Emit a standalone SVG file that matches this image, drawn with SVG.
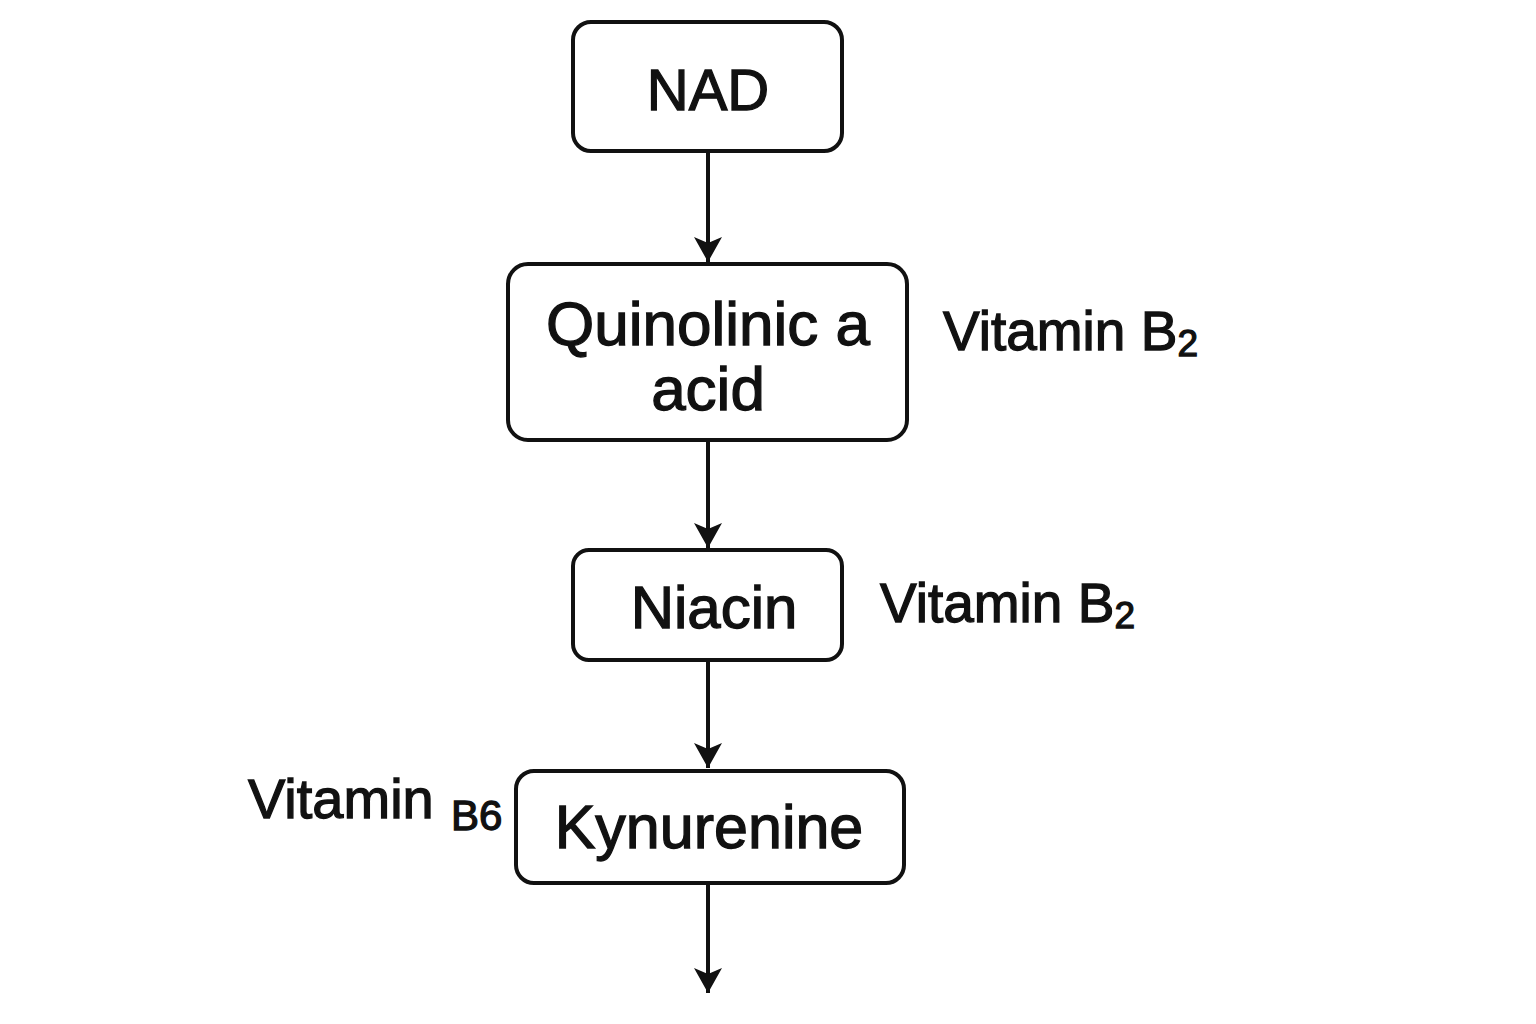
<svg xmlns="http://www.w3.org/2000/svg" width="1536" height="1024" viewBox="0 0 1536 1024">
<style>
.box{fill:#fff;stroke:#111;stroke-width:4}
.t{font-family:"Liberation Sans",Arial,sans-serif;fill:#111;stroke:#111;stroke-width:1.3}
.c{text-anchor:middle}
.edge{stroke:#111;stroke-width:4;fill:none}
</style>
<defs>
<marker id="ah" markerUnits="userSpaceOnUse" markerWidth="30" markerHeight="30" viewBox="0 0 30 30" refX="27" refY="15" orient="auto">
<path d="M2,1 L8,15 L2,29 L27,15 Z" fill="#111"/>
</marker>
</defs>
<rect width="1536" height="1024" fill="#fff"/>
<g id="connectors">
<line class="edge" x1="708" y1="151" x2="708" y2="262" marker-end="url(#ah)"/>
<line class="edge" x1="708" y1="440" x2="708" y2="548" marker-end="url(#ah)"/>
<line class="edge" x1="708" y1="660" x2="708" y2="768" marker-end="url(#ah)"/>
<line class="edge" x1="708" y1="883" x2="708" y2="993" marker-end="url(#ah)"/>
</g>
<g id="nad">
<rect class="box" x="573" y="22" width="269" height="129" rx="18"/>
<text class="t c" x="708" y="110" font-size="58">NAD</text>
</g>
<g id="quinolinic">
<rect class="box" x="508" y="264" width="399" height="176" rx="20"/>
<text class="t c" x="708" y="345" font-size="62">Quinolinic a</text>
<text class="t c" x="708" y="410" font-size="62">acid</text>
</g>
<g id="niacin">
<rect class="box" x="573" y="550" width="269" height="110" rx="16"/>
<text class="t c" x="714" y="628" font-size="60">Niacin</text>
</g>
<g id="kynurenine">
<rect class="box" x="516" y="771" width="388" height="112" rx="18"/>
<text class="t c" x="709" y="848" font-size="61">Kynurenine</text>
</g>
<g id="labels">
<text class="t" x="943" y="350" font-size="55">Vitamin B<tspan font-size="37" dy="6">2</tspan></text>
<text class="t" x="880" y="622" font-size="55">Vitamin B<tspan font-size="37" dy="6">2</tspan></text>
<text class="t" x="248" y="818" font-size="56">Vitamin</text>
<text class="t" x="451" y="830" font-size="42">B6</text>
</g>
</svg>
